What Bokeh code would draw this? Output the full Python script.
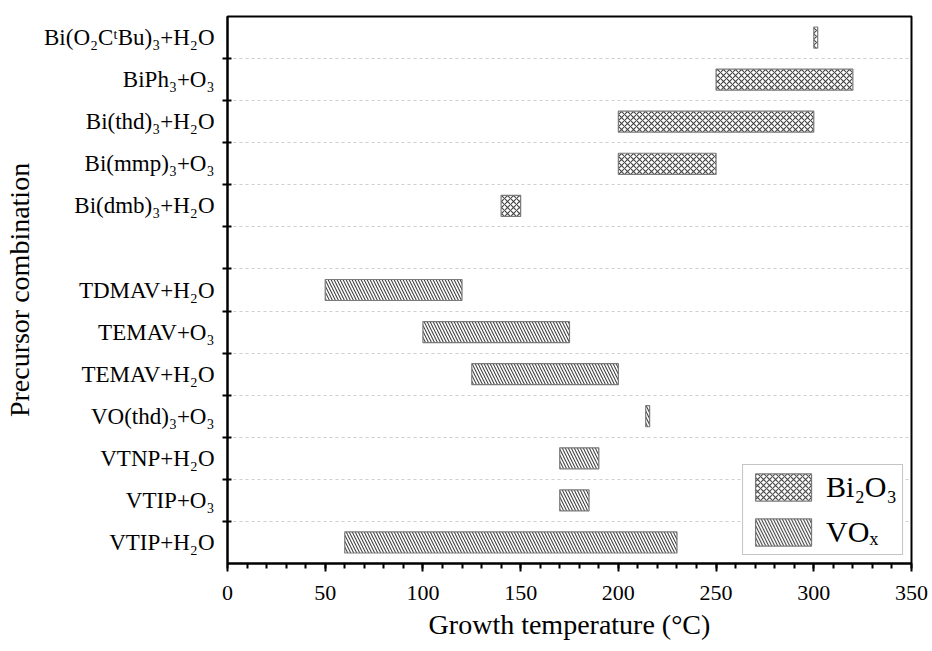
from bokeh.plotting import figure
from bokeh.models import FixedTicker, SingleIntervalTicker, ColumnDataSource
from bokeh.embed import file_html
from bokeh.resources import INLINE

# Precursor combinations, bottom row first ("" is a spacer row between the two groups)
precursors = [
    "VTIP+H₂O", "VTIP+O₃", "VTNP+H₂O", "VO(thd)₃+O₃", "TEMAV+H₂O",
    "TEMAV+O₃", "TDMAV+H₂O", "", "Bi(dmb)₃+H₂O", "Bi(mmp)₃+O₃",
    "Bi(thd)₃+H₂O", "BiPh₃+O₃", "Bi(O₂CᵗBu)₃+H₂O",
]

# Bi2O3 ALD temperature windows (°C)
bi_precursors = ["Bi(dmb)₃+H₂O", "Bi(mmp)₃+O₃", "Bi(thd)₃+H₂O", "BiPh₃+O₃", "Bi(O₂CᵗBu)₃+H₂O"]
bi_low = [140, 200, 200, 250, 300]
bi_high = [150, 250, 300, 320, 302]

# VOx ALD temperature windows (°C)
vox_precursors = ["VTIP+H₂O", "VTIP+O₃", "VTNP+H₂O", "VO(thd)₃+O₃", "TEMAV+H₂O", "TEMAV+O₃", "TDMAV+H₂O"]
vox_low = [60, 170, 170, 214, 125, 100, 50]
vox_high = [230, 185, 190, 216, 200, 175, 120]

x_ticks_step = 50

FONT = "Liberation Serif"

p = figure(
    width=932, height=651,
    x_range=(0, 350), y_range=(-0.5, len(precursors) - 0.5),
    output_backend="svg", toolbar_location=None,
    min_border_left=227, min_border_right=21, min_border_top=16, min_border_bottom=88,
)
p.background_fill_color = "white"
p.border_fill_color = "white"
p.outline_line_color = "black"
p.outline_line_width = 2

bi_src = ColumnDataSource(dict(
    y=[precursors.index(n) for n in bi_precursors], left=bi_low, right=bi_high))
vox_src = ColumnDataSource(dict(
    y=[precursors.index(n) for n in vox_precursors], left=vox_low, right=vox_high))

common = dict(height=0.5, fill_color="white", line_color="#7a7a7a", line_width=1.2,
              hatch_color="#444444", hatch_weight=1.1, hatch_scale=6)
p.hbar(y="y", left="left", right="right", source=bi_src, hatch_pattern="x",
       legend_label="Bi₂O₃", **common)
p.hbar(y="y", left="left", right="right", source=vox_src, hatch_pattern="\\",
       legend_label="VOₓ", **common)

# x axis: majors every 50, minors every 10, ticks outward
p.xaxis.ticker = SingleIntervalTicker(interval=x_ticks_step, num_minor_ticks=5)
p.xaxis.axis_label = "Growth temperature (°C)"
p.xaxis.major_tick_in = 0
p.xaxis.major_tick_out = 8
p.xaxis.minor_tick_in = 0
p.xaxis.minor_tick_out = 5
p.xaxis.major_label_standoff = 14
p.xaxis.axis_label_standoff = 6

# y axis: labels at row centres, tick marks on the row boundaries
rows = list(range(len(precursors)))
bounds = [r + 0.5 for r in rows[:-1]]
p.yaxis.ticker = FixedTicker(ticks=rows, minor_ticks=bounds)
p.yaxis.major_label_overrides = {r: name for r, name in zip(rows, precursors)}
p.yaxis.axis_label = "Precursor combination"
p.yaxis.major_tick_in = 0
p.yaxis.major_tick_out = 0
p.yaxis.minor_tick_in = 4
p.yaxis.minor_tick_out = 5
p.yaxis.major_label_standoff = 8
p.yaxis.axis_label_standoff = 6

for ax in (p.xaxis, p.yaxis):
    ax.axis_line_width = 2
    ax.axis_line_color = "black"
    ax.major_tick_line_width = 2
    ax.minor_tick_line_width = 2
    ax.major_tick_line_color = "black"
    ax.minor_tick_line_color = "black"
    ax.major_label_text_font = FONT
    ax.major_label_text_color = "black"
    ax.axis_label_text_font = FONT
    ax.axis_label_text_font_style = "normal"
    ax.axis_label_text_color = "black"
p.xaxis.major_label_text_font_size = "22px"
p.yaxis.major_label_text_font_size = "23px"
p.xaxis.axis_label_text_font_size = "28px"
p.yaxis.axis_label_text_font_size = "28px"

p.xgrid.visible = False
p.ygrid.ticker = FixedTicker(ticks=bounds)
p.ygrid.grid_line_color = "#cfcfcf"
p.ygrid.grid_line_dash = "3 3"
p.ygrid.grid_line_width = 1

leg = p.legend[0]
leg.location = "bottom_right"
leg.margin = 8
leg.padding = 5
leg.spacing = 11
leg.glyph_width = 70
leg.glyph_height = 34
leg.label_height = 34
leg.label_standoff = 8
leg.label_text_font = FONT
leg.label_text_font_size = "30px"
leg.label_text_color = "black"
leg.border_line_color = "#8a8a8a"
leg.border_line_width = 1.5
leg.background_fill_alpha = 1.0

open("out.html", "w").write(file_html(p, INLINE))
